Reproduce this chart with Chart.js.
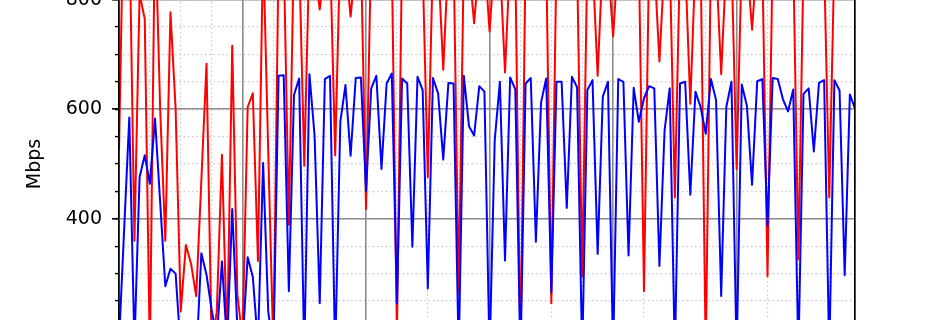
<!DOCTYPE html>
<html>
<head>
<meta charset="utf-8">
<script src="https://cdn.jsdelivr.net/npm/chart.js@4.4.1/dist/chart.umd.min.js"></script>
<style>
  html, body { margin: 0; padding: 0; background: #ffffff; overflow: hidden; }
  #wrap { position: relative; width: 950px; height: 320px; overflow: hidden; background: #ffffff; }
  #c { position: absolute; left: 0; top: 0; }
</style>
</head>
<body>
<div id="wrap"><canvas id="c" width="950" height="640"></canvas></div>
<script>
// ---- data ----
const hours = [
  0,1,2,3,4,5,6,7,8,9,10,11,12,13,14,15,16,17,18,19,20,21,22,23,
  24,25,26,27,28,29,30,31,32,33,34,35,36,37,38,39,40,41,42,43,44,45,46,47,
  48,49,50,51,52,53,54,55,56,57,58,59,60,61,62,63,64,65,66,67,68,69,70,71,
  72,73,74,75,76,77,78,79,80,81,82,83,84,85,86,87,88,89,90,91,92,93,94,95,
  96,97,98,99,100,101,102,103,104,105,106,107,108,109,110,111,112,113,114,115,116,117,118,119,
  120,121,122,123,124,125,126,127,128,129,130,131,132,133,134,135,136,137,138,139,140,141,142,143
];

const blueMbps = [
  175,null,585,170,476,516,464,583,430,277,309,300,160,140,150,140,337,298,234,180,322,170,418,200,
  170,330,294,170,502,230,160,661,662,268,626,656,150,664,552,246,655,661,150,577,644,515,657,658,
  451,638,661,491,647,665,246,656,647,349,659,635,273,657,629,508,648,647,150,661,569,552,642,632,
  150,543,650,324,658,636,140,647,657,358,612,656,265,650,650,420,659,640,150,635,653,336,623,650,
  150,655,650,333,639,577,620,642,638,314,561,638,150,647,650,444,632,604,555,655,617,259,604,650,
  150,645,606,462,651,655,387,657,655,618,596,636,150,628,638,523,648,653,150,653,634,297,627,601
];

const redMbps = [
  525,1030,950,360,810,765,150,950,600,360,777,601,231,352,318,259,470,683,170,230,517,170,716,262,
  180,604,629,323,900,520,160,880,890,389,900,880,497,890,860,782,860,890,516,900,870,769,870,890,
  418,900,880,870,890,880,190,890,870,880,870,860,476,880,870,672,880,890,265,880,860,757,870,880,
  742,880,870,667,880,870,150,880,890,870,860,880,246,880,870,880,890,870,295,880,870,661,880,870,
  733,880,870,880,870,880,268,880,870,687,870,880,439,880,870,610,870,880,150,880,870,664,870,880,
  491,880,870,745,880,870,295,880,870,880,870,880,326,870,880,870,880,870,439,880,870,880,870,880
];

// tick labels that are visible in the picture
const yTickLabels = ['400', '600', '800'];

const yMin = 0, yMax = 1000;
const yMajorStep = 200, yMinorStep = 50;
const xMajorStep = 24, xMinorStep = 6;
const yTitle = 'Mbps';

// ---- chart ----
const FONT = 'DejaVu Sans';
const toPoints = (vals) => hours.map((h, i) => ({ x: h, y: vals[i] }));

const canvas = document.getElementById('c');
const chart = new Chart(canvas, {
  type: 'line',
  data: {
    datasets: [
      {
        label: 'blue', data: toPoints(blueMbps),
        borderColor: '#0000ff', borderWidth: 2, pointRadius: 0,
        tension: 0, spanGaps: true, borderJoinStyle: 'round', order: 0,
        xAxisID: 'x', yAxisID: 'y'
      },
      {
        label: 'red', data: toPoints(redMbps),
        borderColor: '#ff0000', borderWidth: 2, pointRadius: 0,
        tension: 0, spanGaps: true, borderJoinStyle: 'round', order: 1,
        xAxisID: 'x', yAxisID: 'y'
      }
    ]
  },
  options: {
    responsive: false,
    animation: false,
    devicePixelRatio: 1,
    layout: { padding: { top: 60, bottom: 32, left: 0, right: 0 } },
    plugins: { legend: { display: false }, tooltip: { enabled: false } },
    scales: {
      x: {
        type: 'linear', position: 'bottom', min: 0, max: hours[hours.length - 1],
        ticks: { display: false, stepSize: xMajorStep, includeBounds: false },
        grid: { color: '#8c8c8c', lineWidth: 1.6, drawTicks: false, z: -1 },
        border: { display: false },
        afterFit: (s) => { s.height = 0; }
      },
      x2: {
        type: 'linear', position: 'bottom', min: 0, max: hours[hours.length - 1],
        ticks: { display: false, stepSize: xMinorStep, includeBounds: false },
        grid: { color: '#c8c8c8', lineWidth: 1.2, drawTicks: false, z: -2 },
        border: { display: false, dash: [1.5, 2.8] },
        afterFit: (s) => { s.height = 0; }
      },
      y: {
        type: 'linear', position: 'left', min: yMin, max: yMax, weight: 0,
        ticks: {
          stepSize: yMajorStep, color: '#000000', padding: 10,
          font: { family: FONT, size: 19 },
          callback: (v) => (yTickLabels.includes(String(v)) ? String(v) : '')
        },
        grid: { color: '#8c8c8c', lineWidth: 1.6, drawTicks: true, tickLength: 7,
                tickColor: '#000000', tickWidth: 1.6, z: -1 },
        border: { display: true, color: '#000000', width: 1.7, z: 1 },
        title: { display: true, text: yTitle, color: '#000000',
                 font: { family: FONT, size: 19 }, padding: { top: 24, bottom: 0 } },
        afterFit: (s) => { s.width = 119; }
      },
      y2: {
        type: 'linear', position: 'left', min: yMin, max: yMax, weight: -1,
        ticks: { display: false, stepSize: yMinorStep },
        grid: { color: '#c8c8c8', lineWidth: 1.2, drawTicks: true, tickLength: 4,
                tickColor: '#000000', tickWidth: 1.4, z: -2 },
        border: { display: false, dash: [1.5, 2.8] },
        afterFit: (s) => { s.width = 0; }
      },
      yR: {
        type: 'linear', position: 'right', min: yMin, max: yMax,
        ticks: { display: false },
        grid: { display: false, drawTicks: false },
        border: { display: true, color: '#000000', width: 1.7, z: 1 },
        afterFit: (s) => { s.width = 95; }
      }
    }
  }
});

// place the canvas so that the plot region lines up with the reference crop
const p600 = chart.scales.y.getPixelForValue(600);
canvas.style.top = Math.round(109 - p600) + 'px';
</script>
</body>
</html>
